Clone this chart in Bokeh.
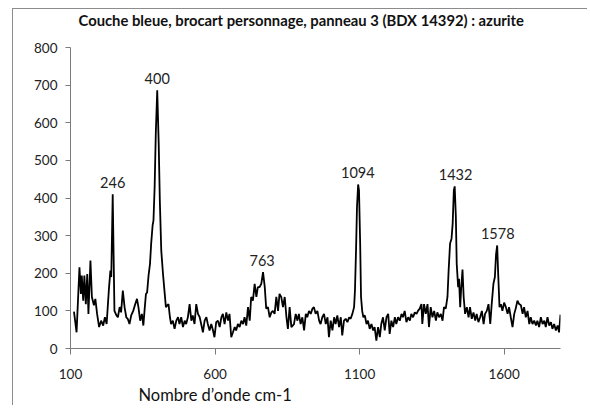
from bokeh.plotting import figure
from bokeh.models import (Range1d, Label, LabelSet, FixedTicker, ColumnDataSource,
                          Title)
from bokeh.core.properties import value
from bokeh.embed import file_html
from bokeh.resources import INLINE

# ---- data ----
wavenumber = [
    112, 121, 131, 136, 139, 144, 148, 153, 158, 162,
    169, 174, 181, 186, 192, 199, 206, 213, 219, 225,
    233, 238, 241, 246, 252, 259, 264, 270, 275, 281,
    287, 293, 298, 304, 310, 317, 324, 330, 335, 341,
    347, 352, 356, 361, 365, 370, 375, 379, 384, 387,
    391, 395, 400, 405, 409, 414, 420, 425, 430, 435,
    439, 444, 448, 454, 460, 466, 472, 477, 483, 489,
    495, 500, 506, 512, 518, 523, 529, 535, 541, 547,
    552, 558, 564, 570, 575, 581, 587, 593, 598, 604,
    610, 616, 622, 627, 633, 639, 645, 650, 656, 662,
    668, 673, 679, 685, 691, 697, 702, 708, 714, 720,
    725, 731, 737, 743, 748, 754, 760, 766, 772, 777,
    783, 789, 795, 800, 806, 812, 818, 823, 829, 835,
    841, 847, 852, 858, 864, 873, 879, 885, 890, 896, 902,
    908, 914, 919, 925, 931, 937, 942, 948, 954, 960,
    965, 971, 977, 983, 989, 994, 1000, 1006, 1012, 1017,
    1023, 1029, 1035, 1040, 1046, 1052, 1058, 1064, 1069, 1075,
    1081, 1084, 1088, 1091, 1095, 1098, 1102, 1105, 1109, 1113,
    1118, 1124, 1129, 1135, 1141, 1147, 1152, 1158, 1164, 1170,
    1175, 1181, 1187, 1193, 1199, 1204, 1210, 1216, 1222, 1227,
    1233, 1239, 1245, 1250, 1256, 1262, 1268, 1274, 1279, 1285,
    1291, 1297, 1302, 1308, 1314, 1317, 1323, 1329, 1335, 1340,
    1346, 1352, 1358, 1364, 1369, 1375, 1381, 1387, 1392, 1398,
    1404, 1408, 1413, 1418, 1422, 1426, 1429, 1433, 1436, 1441,
    1444, 1448, 1451, 1456, 1460, 1465, 1471, 1477, 1482, 1488,
    1494, 1500, 1505, 1511, 1517, 1523, 1529, 1534, 1540, 1546,
    1552, 1557, 1563, 1568, 1572, 1576, 1579, 1584, 1589, 1594,
    1600, 1606, 1612, 1617, 1623, 1629, 1635, 1640, 1646, 1652,
    1658, 1664, 1669, 1675, 1681, 1687, 1692, 1698, 1704, 1710,
    1715, 1721, 1727, 1733, 1739, 1744, 1750, 1756, 1762, 1767,
    1773, 1779, 1785, 1790, 1795,
]
intensity = [
    98, 43, 216, 145, 194, 127, 194, 118, 198, 92,
    234, 137, 115, 132, 92, 57, 74, 61, 83, 65,
    159, 207, 190, 410, 100, 88, 83, 110, 96, 154,
    110, 83, 79, 65, 88, 100, 118, 132, 110, 74,
    92, 61, 100, 145, 149, 194, 225, 278, 327, 340,
    428, 570, 686, 548, 393, 260, 198, 154, 110, 115,
    118, 83, 65, 74, 52, 74, 83, 65, 83, 57,
    74, 65, 83, 118, 74, 88, 65, 118, 92, 83,
    65, 43, 74, 83, 65, 48, 65, 48, 30, 70,
    74, 57, 83, 92, 65, 96, 74, 92, 30, 43,
    57, 48, 65, 57, 74, 65, 83, 61, 110, 74,
    137, 127, 172, 137, 163, 163, 172, 203, 163, 106,
    110, 83, 96, 100, 92, 137, 100, 145, 137, 110,
    137, 83, 52, 110, 57, 65, 92, 74, 92, 65, 83,
    48, 92, 83, 100, 92, 106, 110, 92, 100, 74,
    65, 83, 92, 65, 83, 30, 74, 48, 83, 65,
    88, 57, 83, 35, 74, 79, 70, 83, 79, 92,
    110, 154, 270, 376, 436, 420, 279, 137, 100, 83,
    88, 65, 74, 52, 65, 48, 57, 21, 57, 30,
    65, 83, 48, 83, 92, 39, 74, 57, 83, 65,
    83, 74, 92, 83, 100, 70, 83, 74, 92, 83,
    96, 92, 100, 106, 118, 65, 118, 92, 118, 57,
    110, 83, 100, 74, 96, 83, 92, 74, 110, 106,
    137, 207, 279, 292, 332, 420, 431, 350, 225, 163,
    185, 110, 154, 210, 137, 92, 110, 83, 110, 79,
    96, 74, 92, 70, 83, 100, 65, 92, 100, 118,
    65, 118, 172, 190, 250, 274, 207, 110, 118, 100,
    122, 110, 92, 110, 83, 57, 92, 106, 127, 118,
    115, 92, 110, 83, 100, 65, 83, 65, 74, 61,
    74, 57, 83, 65, 74, 57, 83, 61, 70, 52,
    65, 48, 61, 43, 90,
]
assert len(wavenumber) == len(intensity)

peak_positions = [246, 400, 763, 1094, 1432, 1578]
peak_labels = ["246", "400", "763", "1094", "1432", "1578"]
x_ticks = [100, 600, 1100, 1600]
y_ticks = [0, 100, 200, 300, 400, 500, 600, 700, 800]
y_axis_max = 800

title_text = "Couche bleue, brocart personnage, panneau 3 (BDX 14392) : azurite"
x_label_text = "Nombre d\u2019onde   cm-1"

# peak label heights come from the spectrum itself
peak_heights = []
for pk in peak_positions:
    near = [v for w, v in zip(wavenumber, intensity) if abs(w - pk) <= 8]
    peak_heights.append(max(near))

FONT = "Lato"
AXIS_GREY = "#7a7a7a"
BORDER_GREY = "#8c8c8c"

# layout (pixels): figure placed 13px right / 9px down; a 1px shadow line
# above and left of it recreates the chart-area border of the reference
FIG_W, FIG_H = 575, 397
FRAME_TOP_PAD = 2            # frame reaches almost to the top (title drawn inside it)
PLOT_TOP_PX, PLOT_BOTTOM_PX = 47, 348   # where 800 and 0 sit on the page
fig_top = 9
frame_top = fig_top + FRAME_TOP_PAD
px_per_unit = (PLOT_BOTTOM_PX - PLOT_TOP_PX) / y_axis_max
y_top = y_axis_max + (PLOT_TOP_PX - frame_top) / px_per_unit

p = figure(width=FIG_W, height=FIG_H, output_backend="svg", toolbar_location=None,
           title=None,
           x_range=Range1d(100, 1795), y_range=Range1d(0, y_top),
           min_border_left=57, min_border_right=28, min_border_top=FRAME_TOP_PAD,
           min_border_bottom=fig_top + FIG_H - PLOT_BOTTOM_PX,
           styles={"margin-left": "13px", "margin-top": "9px",
                   "box-shadow": f"-1px -1px 0 0 {BORDER_GREY}"})
p.background_fill_color = "white"
p.border_fill_color = "white"
p.outline_line_color = None
p.grid.visible = False

p.line(wavenumber, intensity, line_color="black", line_width=1.8)

src = ColumnDataSource(dict(x=peak_positions, y=peak_heights, t=peak_labels))
p.add_layout(LabelSet(x="x", y="y", text="t", source=src, y_offset=12,
                      text_align="center", text_baseline="middle",
                      text_font=value(FONT), text_font_size=value("14.5px"),
                      text_color="#222222"))

# chart title, drawn inside the (taller) frame above the 800 line
p.add_layout(Label(x=8, y=PLOT_BOTTOM_PX - 19, x_units="screen", y_units="screen",
                   text=title_text, text_font=FONT, text_font_style="bold",
                   text_font_size="14.8px", text_color="#111111",
                   text_baseline="middle", text_align="left"))

# axes
for ax in (p.xaxis, p.yaxis):
    ax.axis_line_color = AXIS_GREY
    ax.axis_line_width = 1
    ax.major_tick_line_color = AXIS_GREY
    ax.minor_tick_line_color = None
    ax.major_tick_in = 0
    ax.major_label_text_font = FONT
    ax.major_label_text_font_size = "13.5px"
    ax.major_label_text_color = "#222222"
p.xaxis.ticker = FixedTicker(ticks=x_ticks)
p.yaxis.ticker = FixedTicker(ticks=y_ticks)
p.yaxis.bounds = (0, y_axis_max)
p.xaxis.major_tick_out = 6
p.yaxis.major_tick_out = 5
p.xaxis.major_label_standoff = 14
p.yaxis.major_label_standoff = 8

# x-axis title, left-aligned under the axis like the reference
p.add_layout(Title(text=x_label_text, align="left", offset=68, standoff=2,
                   text_font=FONT, text_font_style="normal",
                   text_font_size="16.5px", text_color="#111111"), "below")

open("out.html", "w").write(file_html(p, INLINE))
